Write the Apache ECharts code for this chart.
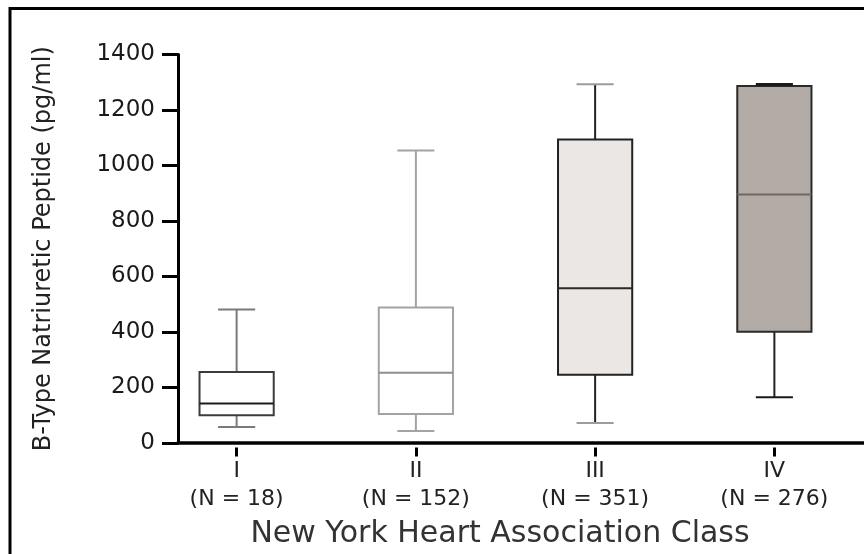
<!DOCTYPE html>
<html>
<head>
<meta charset="utf-8">
<title>BNP by NYHA class</title>
<script src="https://cdn.jsdelivr.net/npm/echarts@6/dist/echarts.min.js"></script>
<style>
  html, body { margin: 0; padding: 0; background: #fff; overflow: hidden; }
  #chart { width: 864px; height: 554px; }
</style>
</head>
<body>
<div id="chart"></div>
<script>
// NYHA classes and sample sizes
const classes = ['I', 'II', 'III', 'IV'];
const counts = [18, 152, 351, 276];
// box statistics, pg/ml
const whiskerLow = [73, 59, 87, 179];
const q1 = [115, 119, 259, 412];
const median = [157, 266, 567, 901];
const q3 = [269, 499, 1097, 1288];
const whiskerHigh = [492, 1058, 1294, 1293];
// y axis
const yMin = 0, yMax = 1400, yStep = 200;

// look of each box (fill, outline, median, whisker, caps)
const boxStyles = [
    { fill: '#ffffff', stroke: '#3c3c3c', med: '#1c1c1c', whisk: '#7a7a7a', cap: '#7a7a7a', capW: 2 },
    { fill: '#ffffff', stroke: '#a3a3a3', med: '#8e8e8e', whisk: '#a3a3a3', cap: '#a3a3a3', capW: 2 },
    { fill: '#ebe7e4', stroke: '#222222', med: '#2a2a2a', whisk: '#222222', cap: '#9c9c9c', capW: 2 },
    { fill: '#b3aba6', stroke: '#2a2a2a', med: '#6e6862', whisk: '#222222', cap: '#1a1a1a', capW: 3 }
];

let myChart = echarts.init(document.getElementById('chart'));

let boxData = classes.map(function (c, i) {
    return [i, whiskerLow[i], q1[i], median[i], q3[i], whiskerHigh[i]];
});

// box + whiskers with half-width caps
function renderItem(params, api) {
    let i = api.value(0);
    let s = boxStyles[i];
    let x = api.coord([i, 0])[0];
    let band = api.size([1, 0])[0];
    let half = band * 0.207;
    let capHalf = half / 2;
    let yLo = api.coord([i, api.value(1)])[1];
    let yQ1 = api.coord([i, api.value(2)])[1];
    let yMed = api.coord([i, api.value(3)])[1];
    let yQ3 = api.coord([i, api.value(4)])[1];
    let yHi = api.coord([i, api.value(5)])[1];
    let line = function (x1, y1, x2, y2, color, w) {
        return {
            type: 'line',
            shape: { x1: x1, y1: y1, x2: x2, y2: y2 },
            style: { stroke: color, lineWidth: w }
        };
    };
    return {
        type: 'group',
        children: [
            line(x, yHi, x, yQ3, s.whisk, 2),
            line(x, yQ1, x, yLo, s.whisk, 2),
            {
                type: 'rect',
                shape: { x: x - half, y: yQ3, width: half * 2, height: yQ1 - yQ3 },
                style: { fill: s.fill, stroke: s.stroke, lineWidth: 2 }
            },
            line(x - half, yMed, x + half, yMed, s.med, 2),
            line(x - capHalf, yHi, x + capHalf, yHi, s.cap, s.capW),
            line(x - capHalf, yLo, x + capHalf, yLo, s.cap, 2)
        ]
    };
}

var option = {
    backgroundColor: '#ffffff',
    animation: false,
    textStyle: { fontFamily: 'DejaVu Sans' },
    grid: [
        // axes frame
        { left: 178, right: -6, top: 54.5, bottom: 106.5 },
        // boxes, categories centred under each box
        { left: 147, right: -24, top: 54.5, bottom: 106.5 }
    ],
    graphic: [{
        type: 'polyline',
        shape: { points: [[10, 570], [10, 8.5], [880, 8.5]] },
        style: { stroke: '#000', lineWidth: 3, fill: null },
        silent: true
    }],
    xAxis: [{
        gridIndex: 0,
        type: 'value',
        min: 0,
        max: 1,
        name: 'New York Heart Association Class',
        nameLocation: 'middle',
        nameGap: 76,
        nameTextStyle: { fontSize: 30, color: '#333', padding: [0, 42, 0, 0] },
        axisLine: { show: true, onZero: false, lineStyle: { color: '#000', width: 3.5 } },
        axisTick: { show: false },
        axisLabel: { show: false },
        splitLine: { show: false }
    }, {
        gridIndex: 1,
        type: 'category',
        data: classes.map(function (c, i) { return c + '\n(N = ' + counts[i] + ')'; }),
        axisLine: { show: false },
        axisTick: { show: true, alignWithLabel: true, length: 9, lineStyle: { color: '#000', width: 3 } },
        axisLabel: { fontSize: 22, color: '#222', lineHeight: 28, margin: 10 },
        splitLine: { show: false }
    }],
    yAxis: [{
        gridIndex: 0,
        type: 'value',
        min: yMin,
        max: yMax,
        interval: yStep,
        name: 'B-Type Natriuretic Peptide (pg/ml)',
        nameLocation: 'middle',
        nameGap: 122,
        nameTextStyle: { fontSize: 24, color: '#222' },
        axisLine: { show: true, lineStyle: { color: '#000', width: 3 } },
        axisTick: { show: true, length: 16, lineStyle: { color: '#000', width: 3 } },
        axisLabel: { fontSize: 23, color: '#1a1a1a', margin: 23, formatter: function (v) { return String(v); } },
        splitLine: { show: false }
    }, {
        gridIndex: 1,
        type: 'value',
        min: yMin,
        max: yMax,
        interval: yStep,
        show: false,
        splitLine: { show: false }
    }],
    series: [{
        name: 'BNP',
        type: 'custom',
        xAxisIndex: 1,
        yAxisIndex: 1,
        renderItem: renderItem,
        encode: { x: 0, y: [1, 2, 3, 4, 5] },
        data: boxData
    }]
};
myChart.setOption(option);
</script>
</body>
</html>
